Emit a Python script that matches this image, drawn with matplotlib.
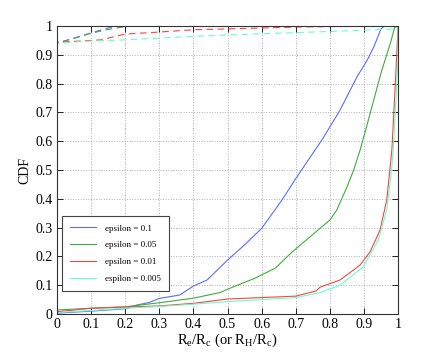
import matplotlib
matplotlib.use('Agg')
import matplotlib.pyplot as plt

# solid curves: CDF of Re/Rc
blue_x = [0, 0.1, 0.2, 0.234, 0.27, 0.3, 0.36, 0.4, 0.44, 0.5, 0.55, 0.6, 0.66, 0.7, 0.78, 0.83, 0.88, 0.91, 0.93, 0.95, 0.96, 1.0]
blue_y = [0.003, 0.01, 0.018, 0.031, 0.04, 0.054, 0.066, 0.097, 0.118, 0.187, 0.24, 0.297, 0.396, 0.47, 0.61, 0.708, 0.824, 0.882, 0.93, 0.99, 1.0, 1.0]

green_x = [0, 0.1, 0.2, 0.3, 0.4, 0.48, 0.5, 0.58, 0.64, 0.69, 0.771, 0.8, 0.82, 0.85, 0.87, 0.889, 0.91, 0.95, 0.98, 0.99, 1.0]
green_y = [0.014, 0.02, 0.025, 0.039, 0.055, 0.075, 0.086, 0.124, 0.159, 0.216, 0.297, 0.326, 0.36, 0.44, 0.5, 0.57, 0.66, 0.836, 0.95, 0.995, 1.0]

red_x = [0, 0.1, 0.2, 0.3, 0.4, 0.5, 0.6, 0.7, 0.76, 0.771, 0.83, 0.889, 0.918, 0.947, 0.967, 0.976, 0.982, 0.99, 0.996, 1.0]
red_y = [0.008, 0.02, 0.024, 0.028, 0.037, 0.052, 0.057, 0.062, 0.08, 0.093, 0.118, 0.17, 0.216, 0.29, 0.396, 0.5, 0.57, 0.75, 0.893, 1.0]

cyan_x = [0, 0.1, 0.2, 0.3, 0.4, 0.5, 0.6, 0.7, 0.771, 0.83, 0.898, 0.942, 0.967, 0.981, 0.986, 0.993, 1.0, 1.0]
cyan_y = [0.005, 0.012, 0.02, 0.026, 0.034, 0.043, 0.05, 0.057, 0.074, 0.10, 0.164, 0.257, 0.361, 0.5, 0.57, 0.72, 0.88, 1.0]

# dashed curves: CDF of RH/Rc (jump at 0)
blue_dx = [0, 0, 0.01, 0.05, 0.1, 0.14, 0.175, 0.2, 1.0]
blue_dy = [0, 0.944, 0.944, 0.958, 0.976, 0.99, 1.0, 1.0, 1.0]

green_dx = [0, 0, 0.01, 0.05, 0.1, 0.15, 0.21, 1.0]
green_dy = [0, 0.944, 0.944, 0.957, 0.975, 0.988, 1.0, 1.0]

red_dx = [0, 0, 0.01, 0.13, 0.2, 0.3, 0.4, 0.6, 0.72, 1.0]
red_dy = [0, 0.944, 0.944, 0.952, 0.972, 0.979, 0.987, 0.993, 0.997, 1.0]

cyan_dx = [0, 0, 0.01, 0.08, 0.2, 0.4, 0.6, 0.8, 0.93, 0.99, 1.0]
cyan_dy = [0, 0.94, 0.94, 0.947, 0.952, 0.964, 0.973, 0.981, 0.987, 0.99, 1.0]

labels = ['epsilon = 0.1', 'epsilon = 0.05', 'epsilon = 0.01', 'espilon = 0.005']
colors = ['#5a6cff', '#3cae3c', '#ff4040', '#66ffcc']

ticks = [0, 0.1, 0.2, 0.3, 0.4, 0.5, 0.6, 0.7, 0.8, 0.9, 1]
tick_labels = ['0', '0.1', '0.2', '0.3', '0.4', '0.5', '0.6', '0.7', '0.8', '0.9', '1']

plt.rcParams['font.family'] = ['Liberation Serif', 'DejaVu Serif']
plt.rcParams['mathtext.fontset'] = 'custom'
plt.rcParams['mathtext.rm'] = 'Liberation Serif'
plt.rcParams['mathtext.it'] = 'Liberation Serif'

fig = plt.figure(figsize=(4.4, 3.54), dpi=100)
ax = fig.add_axes([57/440, 40/354, 341/440, 288/354])

solid = [(blue_x, blue_y), (green_x, green_y), (red_x, red_y), (cyan_x, cyan_y)]
dashed = [(blue_dx, blue_dy), (green_dx, green_dy), (red_dx, red_dy), (cyan_dx, cyan_dy)]

for (xs, ys), lab, c in zip(solid, labels, colors):
    ax.plot(xs, ys, color=c, lw=0.8, label=lab)
for (xs, ys), c in zip(dashed, colors):
    ax.plot(xs, ys, color=c, lw=0.8, ls=(0, (6, 4)))

ax.set_xlim(0, 1)
ax.set_ylim(0, 1)
ax.set_xticks(ticks)
ax.set_xticklabels(tick_labels)
ax.set_yticks(ticks)
ax.set_yticklabels(tick_labels)
ax.tick_params(direction='in', top=True, right=True, length=4, width=0.6, labelsize=10, pad=3)
ax.grid(True, ls=':', color='#b0b0b0', lw=0.7)
for s in ax.spines.values():
    s.set_linewidth(0.8)
    s.set_color('#333333')

ax.set_xlabel(r'R$_e$/R$_c$ (or R$_H$/R$_c$)', fontsize=10.5, labelpad=0)
ax.set_ylabel('CDF', fontsize=10, labelpad=3)

leg = ax.legend(loc='upper left', bbox_to_anchor=(0.0155, 0.34), borderaxespad=0,
                fontsize=6.5, fancybox=False, edgecolor='#444444', framealpha=1,
                handlelength=2.8, labelspacing=0.95, borderpad=0.9, handletextpad=1.0)
leg.get_frame().set_linewidth(0.8)

fig.savefig('out.png', dpi=100)
